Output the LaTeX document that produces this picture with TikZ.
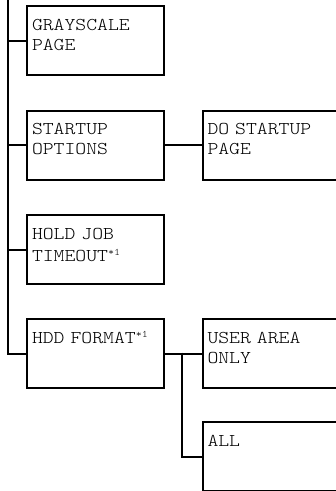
\documentclass[tikz,border=0pt]{standalone}
\usepackage{fontspec}
\newfontfamily\menufont[FakeStretch=1.15]{Latin Modern Mono Light}
\usetikzlibrary{positioning}

\newcommand{\noteone}{\raisebox{6pt}{\fontsize{10}{10}\selectfont *1}}

\begin{document}
\begin{tikzpicture}[
        x=1pt,
        y=-1pt,
        menu/.style={draw, line width=2pt, anchor=north west, minimum width=137pt, minimum height=69pt,
            inner sep=0pt, text width=127pt, align=left, text height=24pt, text depth=45pt,
            font=\menufont\fontsize{18}{20}\selectfont},
        wire/.style={line width=2pt}
    ]
        \clip (0,0) rectangle (336,491);

        % first column of menu entries
        \node[menu] (gray) at (26,5) {GRAYSCALE\\PAGE};
        \node[menu] (startup) at (26,109.5) {STARTUP\\OPTIONS};
        \node[menu] (hold) at (26,214) {HOLD JOB\\[2pt]TIMEOUT\noteone};
        \node[menu] (hdd) at (26,318) {HDD FORMAT\noteone\\};

        % second column
        \node[menu] (dostart) at (201.5,109.5) {DO STARTUP\\PAGE};
        \node[menu] (user) at (201.5,318) {USER AREA\\ONLY};
        \node[menu] (all) at (201.5,421) {ALL\\};

        % trunk and branches
        \coordinate (trunk) at (8,-5);
        \draw[wire] (trunk) |- (hdd.west);
        \foreach \entry in {gray,startup,hold} {
            \draw[wire] (\entry.west) -- (\entry.west -| trunk);
        }
        \draw[wire] (startup.east) -- (dostart.west);
        \draw[wire] (hdd.east) -- (user.west);
        \coordinate (split) at (182,352.5);
        \draw[wire] (split) |- (all.west);
    \end{tikzpicture}
\end{document}
